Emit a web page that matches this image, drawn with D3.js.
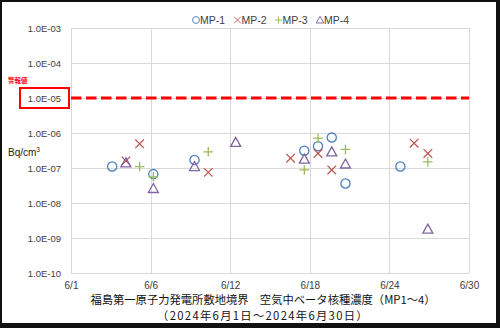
<!DOCTYPE html>
<html>
<head>
<meta charset="utf-8">
<script src="https://cdn.jsdelivr.net/npm/d3@7"></script>
<style>
  html, body { margin: 0; padding: 0; background: #fff; }
  svg { display: block; }
</style>
</head>
<body>
<svg id="chart" width="500" height="328"></svg>
<script>
// Sampling days (day of June 2024) and beta-nuclide concentrations (Bq/cm3)
const mp1Days = [4, 7, 10, 18, 19, 20, 21, 25];
const mp1Values = [1.1e-7, 6.7e-8, 1.7e-7, 3.1e-7, 4.2e-7, 7.4e-7, 3.6e-8, 1.1e-7];
const mp2Days = [5, 6, 11, 17, 19, 20, 26, 27];
const mp2Values = [1.6e-7, 4.9e-7, 7.5e-8, 1.9e-7, 2.6e-7, 8.8e-8, 5.1e-7, 2.6e-7];
const mp3Days = [6, 7, 11, 18, 19, 21, 27];
const mp3Values = [1.1e-7, 5.6e-8, 2.9e-7, 8.8e-8, 7.1e-7, 3.4e-7, 1.5e-7];
const mp4Days = [5, 7, 10, 13, 18, 20, 21, 27];
const mp4Values = [1.4e-7, 2.6e-8, 1.1e-7, 5.4e-7, 1.8e-7, 2.9e-7, 1.3e-7, 1.8e-9];

const seriesNames = ["MP-1", "MP-2", "MP-3", "MP-4"];
const alarmLevel = 1e-5;
const alarmLabel = "警報値";

const yTickValues = [1e-3, 1e-4, 1e-5, 1e-6, 1e-7, 1e-8, 1e-9, 1e-10];
const yTickLabels = ["1.0E-03", "1.0E-04", "1.0E-05", "1.0E-06", "1.0E-07", "1.0E-08", "1.0E-09", "1.0E-10"];
const xTickLabels = ["6/1", "6/6", "6/12", "6/18", "6/24", "6/30"];
const unitLabel = "Bq/cm";
const titleLine1 = "福島第一原子力発電所敷地境界　空気中ベータ核種濃度（MP1～4）";
const titleLine2 = "（2024年6月1日～2024年6月30日）";

const colors = ["#4F81BD", "#C0504D", "#9BBB59", "#8064A2"];
const sansFont = "'Liberation Sans', Arial, sans-serif";
const cjkFont = "'Noto Sans CJK JP', sans-serif";

const svg = d3.select("#chart");
const W = 500, H = 328;

// Frame: dark outline with a heavier bottom/right edge
svg.append("rect").attr("width", W).attr("height", H).attr("fill", "#111");
svg.append("rect").attr("x", 2).attr("y", 2).attr("width", 494).attr("height", 321).attr("fill", "#fff");

const plot = { left: 71, right: 469, top: 28, bottom: 273 };

const june = d => new Date(Date.UTC(2024, 5, d));
const x = d3.scaleUtc().domain([june(1), june(30)]).range([plot.left, plot.right]);
const y = d3.scaleLog().domain([1e-10, 1e-3]).range([plot.bottom, plot.top]);

// Five equal divisions along the date axis
const t0 = +june(1), t1 = +june(30);
const xTickValues = d3.range(xTickLabels.length).map(i => new Date(t0 + i * (t1 - t0) / (xTickLabels.length - 1)));

// Gridlines
const grid = svg.append("g").attr("stroke", "#d9d9d9").attr("stroke-width", 1);
grid.selectAll("line.h").data(yTickValues).join("line")
  .attr("x1", plot.left).attr("x2", plot.right)
  .attr("y1", d => Math.round(y(d)) + 0.5).attr("y2", d => Math.round(y(d)) + 0.5);
grid.selectAll("line.v").data(xTickValues).join("line")
  .attr("y1", plot.top).attr("y2", plot.bottom)
  .attr("x1", d => Math.round(x(d)) + 0.5).attr("x2", d => Math.round(x(d)) + 0.5);

// Y axis labels
const yAxis = d3.axisLeft(y).tickValues(yTickValues).tickSize(0).tickPadding(10)
  .tickFormat((d, i) => yTickLabels[i]);
const gy = svg.append("g").attr("transform", `translate(${plot.left},0)`).call(yAxis);
gy.select(".domain").remove();
gy.selectAll("text").attr("font-family", sansFont).attr("font-size", 9.5).attr("fill", "#404040");

// X axis labels
const xAxis = d3.axisBottom(x).tickValues(xTickValues).tickSize(0).tickPadding(9)
  .tickFormat((d, i) => xTickLabels[i]);
const gx = svg.append("g").attr("transform", `translate(0,${plot.bottom})`).call(xAxis);
gx.select(".domain").remove();
gx.selectAll("text").attr("font-family", sansFont).attr("font-size", 10).attr("fill", "#404040");

// Unit label
const unit = svg.append("text").attr("x", 8).attr("y", 156)
  .attr("font-family", sansFont).attr("font-size", 10).attr("fill", "#222").text(unitLabel);
unit.append("tspan").attr("font-size", 6.5).attr("dy", -4).text("3");

// Alarm level line
svg.append("line")
  .attr("x1", plot.left).attr("x2", plot.right)
  .attr("y1", y(alarmLevel)).attr("y2", y(alarmLevel))
  .attr("stroke", "#FF0000").attr("stroke-width", 3).attr("stroke-dasharray", "10.5,4.5");

// Alarm tick highlighted with a box
svg.append("rect").attr("x", 20).attr("y", y(alarmLevel) - 10).attr("width", 49).attr("height", 20)
  .attr("fill", "none").attr("stroke", "#FF0000").attr("stroke-width", 2);
svg.append("text").attr("x", 8).attr("y", y(alarmLevel) - 15)
  .attr("font-family", cjkFont).attr("font-size", 6.5).attr("font-weight", "bold")
  .attr("fill", "#FF0000").text(alarmLabel);

// Marker shapes: circle, cross, plus, triangle
function drawMarker(g, kind, color) {
  if (kind === 0) {
    g.append("circle").attr("r", 4.6).attr("fill", "none").attr("stroke", color).attr("stroke-width", 1.3);
  } else if (kind === 1) {
    g.append("path").attr("d", "M-4.3,-4.3L4.3,4.3M-4.3,4.3L4.3,-4.3")
      .attr("stroke", color).attr("stroke-width", 1.2).attr("fill", "none");
  } else if (kind === 2) {
    g.append("path").attr("d", "M-4.8,0L4.8,0M0,-4.8L0,4.8")
      .attr("stroke", color).attr("stroke-width", 1.3).attr("fill", "none");
  } else {
    g.append("path").attr("d", "M0,-5L5,4L-5,4Z")
      .attr("stroke", color).attr("stroke-width", 1.3).attr("fill", "none").attr("stroke-linejoin", "miter");
  }
}

const series = [
  { days: mp1Days, values: mp1Values },
  { days: mp2Days, values: mp2Values },
  { days: mp3Days, values: mp3Values },
  { days: mp4Days, values: mp4Values },
];

series.forEach((s, k) => {
  const pts = s.days.map((d, i) => ({ date: june(d), v: s.values[i] }));
  const g = svg.append("g");
  g.selectAll("g").data(pts).join("g")
    .attr("transform", p => `translate(${x(p.date)},${y(p.v)})`)
    .each(function () { drawMarker(d3.select(this), k, colors[k]); });
});

// Legend
const legendX = [196, 237.5, 278.5, 320];
const legend = svg.append("g");
seriesNames.forEach((name, k) => {
  const item = legend.append("g").attr("transform", `translate(${legendX[k]},20)`);
  const m = item.append("g").attr("transform", "scale(0.75)");
  drawMarker(m, k, colors[k]);
  item.append("text").attr("x", 4).attr("y", 3.8)
    .attr("font-family", sansFont).attr("font-size", 10.5).attr("fill", "#404040").text(name);
});

// Titles
svg.append("text").attr("x", 263).attr("y", 303.5).attr("text-anchor", "middle")
  .attr("font-family", cjkFont).attr("font-size", 11.3).attr("fill", "#111").text(titleLine1);
svg.append("text").attr("x", 263).attr("y", 320).attr("text-anchor", "middle")
  .attr("letter-spacing", 1.3)
  .attr("font-family", cjkFont).attr("font-size", 11.3).attr("fill", "#111").text(titleLine2);
</script>
</body>
</html>
